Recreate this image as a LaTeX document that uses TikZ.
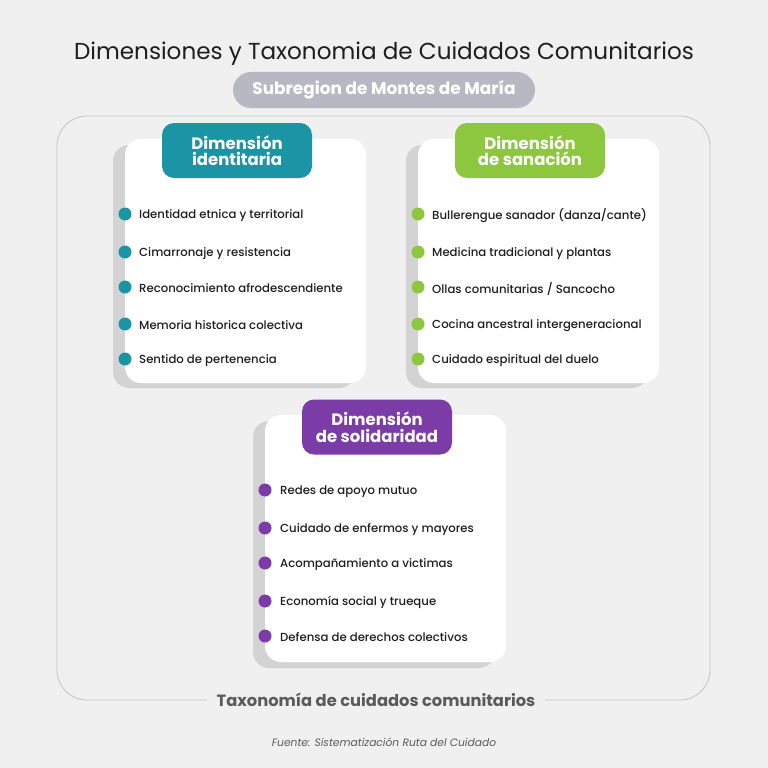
\documentclass[tikz,border=0pt]{standalone}
\usepackage{fontspec}
\setmainfont{Poppins}
\newfontfamily\medfont{Poppins Medium}
\definecolor{bgc}{HTML}{F0F0F0}
\definecolor{teal}{HTML}{1B95A5}
\definecolor{leaf}{HTML}{8DC63F}
\definecolor{plum}{HTML}{7B3CA8}
\definecolor{pill}{HTML}{B8B8C2}
\definecolor{frame}{HTML}{C4C4C4}
\definecolor{shade}{HTML}{D3D3D3}
\definecolor{ink}{HTML}{1E1E1E}
\definecolor{label}{HTML}{5A5A5A}
\begin{document}
\begin{tikzpicture}[x=1pt,y=-1pt,
  card/.style={fill=white,rounded corners=16pt},
  shadowbox/.style={fill=shade,rounded corners=16pt},
  header/.style={rounded corners=12pt,text=white,font=\fontsize{16.5}{16.5}\selectfont\bfseries,align=center,minimum width=150pt,minimum height=55pt,inner sep=0pt},
  dot/.style={circle,inner sep=0pt,minimum size=13pt},
  item/.style={anchor=west,text=ink,font=\medfont\fontsize{11.7}{14}\selectfont,inner sep=0pt,yshift=-1.5pt}]
\useasboundingbox (0,0) rectangle (768,768);
\fill[bgc] (0,0) rectangle (768,768);
% title
\node[text=ink,font=\fontsize{23.1}{25}\selectfont] (title) at (384,54) {Dimensiones y Taxonomia de Cuidados Comunitarios};
% subregion pill
\node[fill=pill,rounded corners=18pt,minimum width=302pt,minimum height=36pt,text=white,font=\fontsize{16.9}{17}\selectfont\bfseries] (sub) at (384,90) {Subregion de Montes de María};
% outer frame
\draw[frame,line width=0.8pt,rounded corners=30pt] (376,700) -- (57,700) -- (57,116) -- (710,116) -- (710,700) -- cycle;
\node[fill=bgc,text=label,font=\fontsize{16.3}{16.3}\selectfont\bfseries,inner xsep=10pt] (tax) at (376,700) {Taxonomía de cuidados comunitarios};
% footer
\node[text=label,font=\fontsize{10.7}{11}\selectfont\itshape] (src) at (384,742) {Fuente: Sistematización Ruta del Cuidado};

% card 1
\fill[shadowbox] (113,145) rectangle (355,388);
\fill[card] (125,139) rectangle (366,383);
\node[header,fill=teal] (h1) at (237,150.5) {Dimensión\\identitaria};
\foreach \t/\y [count=\i] in {{Identidad etnica y territorial}/214,{Cimarronaje y resistencia}/252,{Reconocimiento afrodescendiente}/287,{Memoria historica colectiva}/324,{Sentido de pertenencia}/359}{
  \node[dot,fill=teal] (a\i) at (125,\y) {};
  \node[item] (ta\i) at (139,\y) {\t};
}
% card 2
\fill[shadowbox] (406,145) rectangle (648,388);
\fill[card] (418,139) rectangle (659,383);
\node[header,fill=leaf] (h2) at (530,150.5) {Dimensión\\de sanación};
\foreach \t/\y [count=\i] in {{Bullerengue sanador (danza/cante)}/214,{Medicina tradicional y plantas}/252,{Ollas comunitarias / Sancocho}/287,{Cocina ancestral intergeneracional}/324,{Cuidado espiritual del duelo}/359}{
  \node[dot,fill=leaf] (b\i) at (418,\y) {};
  \node[item] (tb\i) at (432,\y) {\t};
}
% card 3
\fill[shadowbox] (253,421) rectangle (495,668);
\fill[card] (265,415) rectangle (506,662);
\node[header,fill=plum] (h3) at (377,427) {Dimensión\\de solidaridad};
\foreach \t/\y [count=\i] in {{Redes de apoyo mutuo}/490,{Cuidado de enfermos y mayores}/528,{Acompañamiento a victimas}/563,{Economía social y trueque}/601,{Defensa de derechos colectivos}/636}{
  \node[dot,fill=plum] (c\i) at (265,\y) {};
  \node[item] (tc\i) at (280,\y) {\t};
}
\end{tikzpicture}
\end{document}
